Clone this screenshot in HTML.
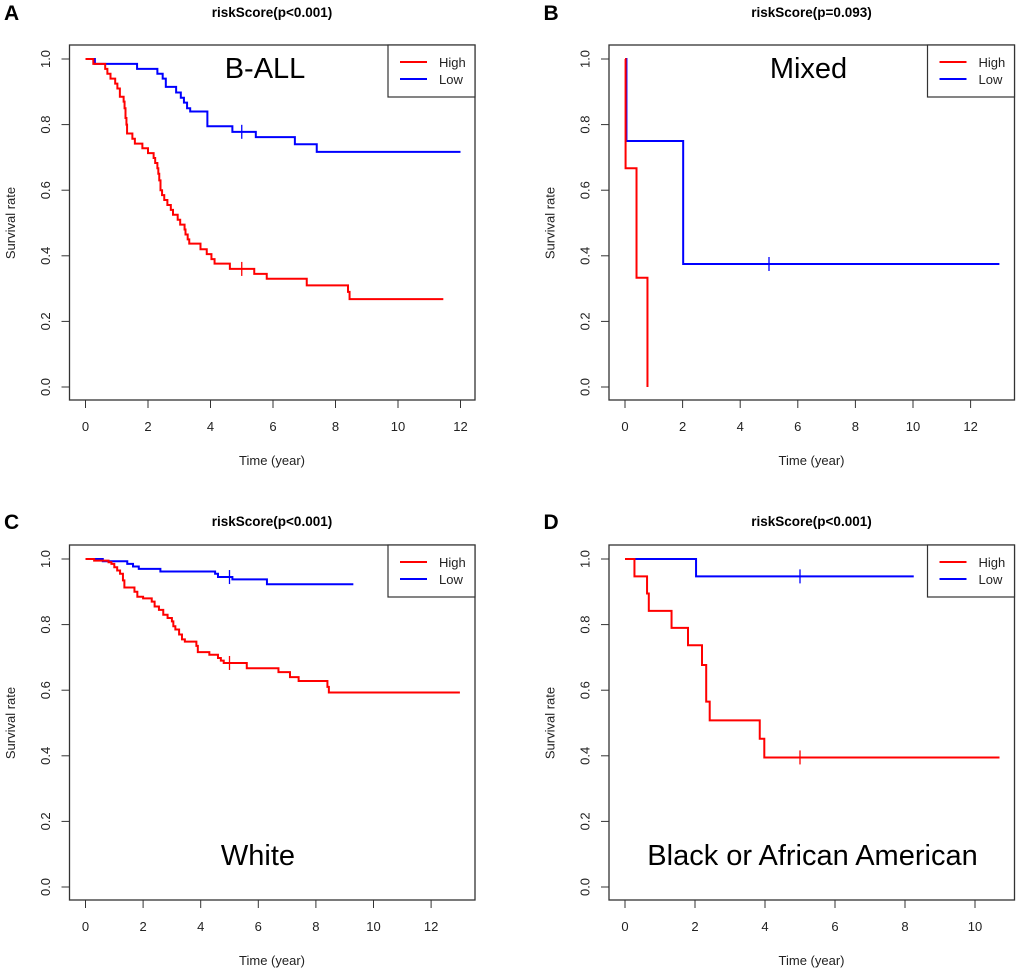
<!DOCTYPE html>
<html><head><meta charset="utf-8"><style>
body{margin:0;background:#fff;}
svg{display:block;font-family:"Liberation Sans",Arial,sans-serif;}
</style></head><body>
<svg id="fig" width="1020" height="972" viewBox="0 0 1020 972"></svg>
<script>
// Panel A (B-ALL)
const aHighT=[0,0.25,0.63,0.7,0.8,0.95,1.02,1.1,1.22,1.25,1.28,1.31,1.33,1.5,1.58,1.82,2.0,2.18,2.23,2.3,2.33,2.36,2.4,2.45,2.52,2.62,2.73,2.8,2.95,3.03,3.17,3.2,3.27,3.32,3.68,3.88,4.03,4.13,4.62,5.4,5.8,7.08,8.4,8.45];
const aHighS=[1,0.985,0.97,0.955,0.94,0.925,0.91,0.885,0.87,0.85,0.82,0.8,0.773,0.757,0.742,0.728,0.713,0.698,0.683,0.667,0.65,0.63,0.6,0.585,0.57,0.555,0.54,0.525,0.51,0.495,0.48,0.465,0.45,0.437,0.42,0.405,0.39,0.376,0.36,0.345,0.33,0.31,0.29,0.268];
const aHighEnd=11.45, aHighCens=[5];
const aLowT=[0,0.3,1.65,2.3,2.47,2.57,2.9,3.05,3.15,3.25,3.35,3.9,4.7,5.45,6.7,7.4];
const aLowS=[1,0.985,0.97,0.955,0.94,0.915,0.898,0.882,0.867,0.85,0.84,0.795,0.778,0.762,0.74,0.717];
const aLowEnd=12, aLowCens=[5];
// Panel B (Mixed)
const bHighT=[0,0.02,0.4,0.78], bHighS=[1,0.667,0.333,0], bHighEnd=0.78, bHighCens=[];
const bLowT=[0,0.05,2.02], bLowS=[1,0.75,0.375], bLowEnd=13, bLowCens=[5];
// Panel C (White)
const cHighT=[0,0.3,0.8,0.9,1.0,1.1,1.2,1.3,1.35,1.7,1.8,2.0,2.3,2.4,2.55,2.7,2.85,3.0,3.05,3.12,3.25,3.35,3.45,3.85,3.9,4.3,4.6,4.7,4.8,5.6,6.7,7.1,7.4,8.4,8.45];
const cHighS=[1,0.995,0.99,0.985,0.975,0.965,0.955,0.935,0.913,0.9,0.885,0.88,0.87,0.855,0.845,0.83,0.82,0.81,0.795,0.785,0.77,0.755,0.748,0.735,0.716,0.708,0.698,0.69,0.683,0.667,0.655,0.64,0.628,0.61,0.593];
const cHighEnd=13, cHighCens=[5];
const cLowT=[0,0.6,1.45,1.65,1.85,2.6,4.5,4.6,5.1,6.3];
const cLowS=[1,0.993,0.985,0.977,0.97,0.962,0.955,0.945,0.938,0.923];
const cLowEnd=9.3, cLowCens=[5];
// Panel D (Black or African American)
const dHighT=[0,0.27,0.63,0.68,1.33,1.8,2.2,2.32,2.42,3.85,3.98];
const dHighS=[1,0.947,0.895,0.842,0.79,0.737,0.677,0.565,0.508,0.452,0.395];
const dHighEnd=10.7, dHighCens=[5];
const dLowT=[0,2.03], dLowS=[1,0.947], dLowEnd=8.25, dLowCens=[5];

const yTicks=["0.0","0.2","0.4","0.6","0.8","1.0"];
const NS="http://www.w3.org/2000/svg";
const svg=document.getElementById('fig');
function mk(tag,attrs,parent){const e=document.createElementNS(NS,tag);for(const k in attrs)e.setAttribute(k,attrs[k]);(parent||svg).appendChild(e);return e;}
function txt(s,attrs,parent){const e=mk('text',attrs,parent);e.textContent=s;return e;}

function panel(o){
  const g=mk('g',{transform:`translate(${o.dx},${o.dy})`});
  
  
  const L=69.5,R=475,T=45,B=400,y0=387,y1=59,x0=85.5;
  const X=t=>x0+t*o.pxPerYr, Y=s=>y0+(y1-y0)*s;
  const lt=txt(o.letter,{x:4,y:o.letterY,'font-size':21,'font-weight':'bold'},g);
  
  
  const ti=txt(o.title,{x:272,y:o.titleY,'font-size':13.5,'font-weight':'bold','text-anchor':'middle'},g);
  
  
  const box=mk('rect',{x:L,y:T,width:R-L,height:B-T,fill:'none',stroke:'#333','stroke-width':1.3},g);
  
  
  yTicks.forEach(lab=>{const v=parseFloat(lab),y=Y(v);
    mk('line',{x1:L,x2:L-8,y1:y,y2:y,stroke:'#333','stroke-width':1},g);
    const t=txt(lab,{x:0,y:0,'font-size':13,'text-anchor':'middle',fill:'#222',transform:`translate(50,${y}) rotate(-90)`},g);
    
    
  });
  const yl=txt('Survival rate',{x:0,y:0,'font-size':13,'text-anchor':'middle',fill:'#222',transform:`translate(15,223) rotate(-90)`},g);
  
  
  o.xTicks.forEach(v=>{const x=X(v);
    mk('line',{x1:x,x2:x,y1:B,y2:B+8,stroke:'#333','stroke-width':1},g);
    const t=txt(String(v),{x:x,y:431,'font-size':13,'text-anchor':'middle',fill:'#222'},g);
    
    
  });
  const xl=txt('Time (year)',{x:272,y:465,'font-size':13,'text-anchor':'middle',fill:'#222'},g);
  
  
  const il=txt(o.label,{x:o.labelX,y:o.labelY,'font-size':29,'text-anchor':'middle'},g);
  
  
  function curve(T_,S_,end,cens,color,name){
    let d=`M${X(T_[0])},${Y(S_[0])}`;
    for(let i=1;i<T_.length;i++){d+=`H${X(T_[i])}V${Y(S_[i])}`;}
    d+=`H${X(end)}`;
    const p=mk('path',{d:d,fill:'none',stroke:color,'stroke-width':2},g);
    
    
    cens.forEach(c=>{let s=S_[0];for(let i=0;i<T_.length;i++)if(T_[i]<=c)s=S_[i];
      const cm=mk('path',{d:`M${X(c)},${Y(s)-7}V${Y(s)+7}`,stroke:color,'stroke-width':1.3},g);
      
      });
  }
  curve(o.lowT,o.lowS,o.lowEnd,o.lowC,'#0000ff','low-risk-curve');
  curve(o.highT,o.highS,o.highEnd,o.highC,'#ff0000','high-risk-curve');
  const lg=mk('g',{},g);
  
  
  mk('rect',{x:388,y:T,width:R-388,height:52,fill:'#fff',stroke:'#333','stroke-width':1.2},lg);
  mk('line',{x1:400,x2:427,y1:62,y2:62,stroke:'#ff0000','stroke-width':2},lg);
  mk('line',{x1:400,x2:427,y1:79,y2:79,stroke:'#0000ff','stroke-width':2},lg);
  const h=txt('High',{x:439,y:67,'font-size':13,fill:'#222'},lg);
  
  
  const lw=txt('Low',{x:439,y:84,'font-size':13,fill:'#222'},lg);
  
  
}
panel({dx:0,dy:0,letter:'A',letterY:20,title:'riskScore(p<0.001)',titleY:17,label:'B-ALL',labelX:265,labelY:78,pxPerYr:31.25,xTicks:[0,2,4,6,8,10,12],
  highT:aHighT,highS:aHighS,highEnd:aHighEnd,highC:aHighCens,lowT:aLowT,lowS:aLowS,lowEnd:aLowEnd,lowC:aLowCens});
panel({dx:539.5,dy:0,letter:'B',letterY:20,title:'riskScore(p=0.093)',titleY:17,label:'Mixed',labelX:269,labelY:78,pxPerYr:28.8,xTicks:[0,2,4,6,8,10,12],
  highT:bHighT,highS:bHighS,highEnd:bHighEnd,highC:bHighCens,lowT:bLowT,lowS:bLowS,lowEnd:bLowEnd,lowC:bLowCens});
panel({dx:0,dy:500,letter:'C',letterY:29,title:'riskScore(p<0.001)',titleY:26,label:'White',labelX:258,labelY:365,pxPerYr:28.8,xTicks:[0,2,4,6,8,10,12],
  highT:cHighT,highS:cHighS,highEnd:cHighEnd,highC:cHighCens,lowT:cLowT,lowS:cLowS,lowEnd:cLowEnd,lowC:cLowCens});
panel({dx:539.5,dy:500,letter:'D',letterY:29,title:'riskScore(p<0.001)',titleY:26,label:'Black or African American',labelX:273,labelY:365,pxPerYr:35,xTicks:[0,2,4,6,8,10],
  highT:dHighT,highS:dHighS,highEnd:dHighEnd,highC:dHighCens,lowT:dLowT,lowS:dLowS,lowEnd:dLowEnd,lowC:dLowCens});
</script>
</body></html>
